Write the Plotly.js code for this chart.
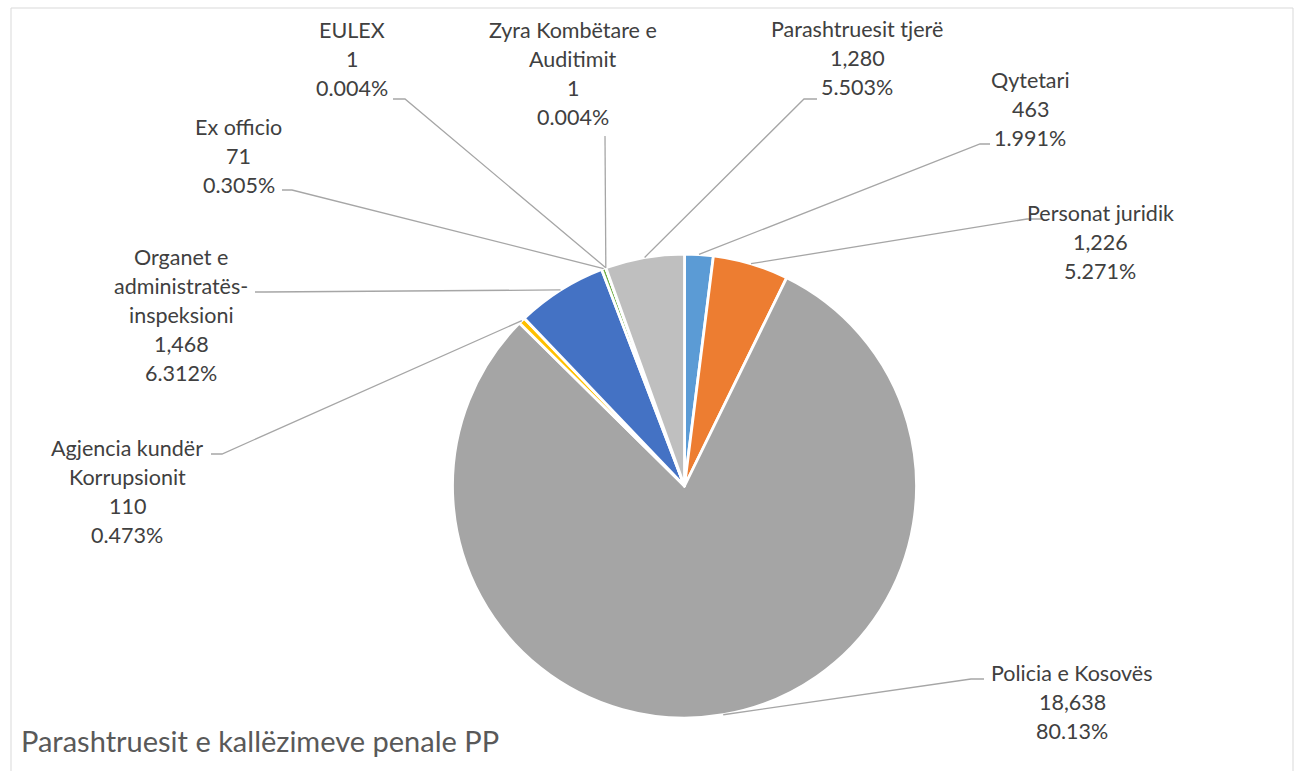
<!DOCTYPE html>
<html>
<head>
<meta charset="utf-8">
<script src="https://cdn.plot.ly/plotly-3.0.1.min.js"></script>
<style>html,body{margin:0;padding:0;background:#fff;}#chart{width:1295px;height:771px;}</style>
</head>
<body>
<div id="chart"></div>
<script>
// ---- data (clockwise from 12 o'clock) ----
const categories = ["Qytetari", "Personat juridik", "Policia e Kosovës", "Agjencia kundër Korrupsionit",
  "Organet e administratës-inspeksioni", "Ex officio", "EULEX", "Zyra Kombëtare e Auditimit", "Parashtruesit tjerë"];
const values = [463, 1226, 18638, 110, 1468, 71, 1, 1, 1280];
const percentLabels = ["1.991%", "5.271%", "80.13%", "0.473%", "6.312%", "0.305%", "0.004%", "0.004%", "5.503%"];
const nameLines = [["Qytetari"], ["Personat juridik"], ["Policia e Kosovës"], ["Agjencia kundër", "Korrupsionit"],
  ["Organet e", "administratës-", "inspeksioni"], ["Ex officio"], ["EULEX"], ["Zyra Kombëtare e", "Auditimit"], ["Parashtruesit tjerë"]];
const colors = ["#5B9BD5", "#ED7D31", "#A5A5A5", "#FFC000", "#4472C4", "#70AD47", "#264478", "#9E480E", "#BFBFBF"];
const chartTitle = "Parashtruesit e kallëzimeve penale PP";

// ---- layout (pixel positions) ----
const W = 1295, H = 771;
const CX = 684.5, CY = 486, R = 232;
// label block centre x, first line y
const labelPos = [[1030, 80], [1100, 213], [1072, 673], [127, 448], [181, 257], [239, 127], [352, 30], [573, 30], [857, 29]];
// leader: elbow point and stub end (towards the label)
const leaderElbow = [[980, 144], [1027, 219], [971, 679], [222, 454], [265, 292], [292, 190], [405, 99], [605, 136], [804, 99]];
const leaderStub = [[990, 144], [1042, 219], [984, 679], [211, 454], [255, 292], [282, 190], [393, 99], [605, 136], [817, 99]];
const LINE_H = 29;
const FONT = 'Lato, "Open Sans", sans-serif';

const px = x => x / W;
const py = y => 1 - y / H;

const total = values.reduce((a, b) => a + b, 0);
let cum = 0;
const annotations = [];
const shapes = [];
values.forEach((v, i) => {
  const mid = (cum + v / 2) / total;
  cum += v;
  const ang = mid * 2 * Math.PI;
  const ex = CX + R * Math.sin(ang), ey = CY - R * Math.cos(ang);
  const [bx, by] = leaderElbow[i];
  const [sx, sy] = leaderStub[i];
  shapes.push({type: 'path', xref: 'paper', yref: 'paper',
    path: `M ${px(ex)} ${py(ey)} L ${px(bx)} ${py(by)} L ${px(sx)} ${py(sy)}`,
    line: {color: '#A6A6A6', width: 1.3}});
  const lines = nameLines[i].concat([v.toLocaleString('en-US'), percentLabels[i]]);
  lines.forEach((t, k) => {
    annotations.push({xref: 'paper', yref: 'paper', x: px(labelPos[i][0]), y: py(labelPos[i][1] + k * LINE_H),
      text: t, showarrow: false, xanchor: 'center', yanchor: 'middle',
      font: {family: FONT, size: 21.5, color: '#404040'}});
  });
});
annotations.push({xref: 'paper', yref: 'paper', x: px(19), y: py(740), text: chartTitle, showarrow: false,
  xanchor: 'left', yanchor: 'middle', font: {family: FONT, size: 29, color: '#595959'}});
shapes.push({type: 'rect', xref: 'paper', yref: 'paper', x0: px(11), x1: px(1293), y0: py(790), y1: py(8),
  line: {color: '#D9D9D9', width: 1}, layer: 'below'});

const trace = {
  type: 'pie', labels: categories, values: values, sort: false, direction: 'clockwise', rotation: 0,
  textinfo: 'none', hoverinfo: 'label+value+percent', showlegend: false,
  marker: {colors: colors, line: {color: '#FFFFFF', width: 2.8}},
  domain: {x: [px(CX - R), px(CX + R)], y: [py(CY + R), py(CY - R)]}
};

Plotly.newPlot('chart', [trace], {
  width: W, height: H, margin: {l: 0, r: 0, t: 0, b: 0}, paper_bgcolor: '#fff', plot_bgcolor: '#fff',
  showlegend: false, annotations: annotations, shapes: shapes
}, {displayModeBar: false, staticPlot: true});
</script>
</body>
</html>
